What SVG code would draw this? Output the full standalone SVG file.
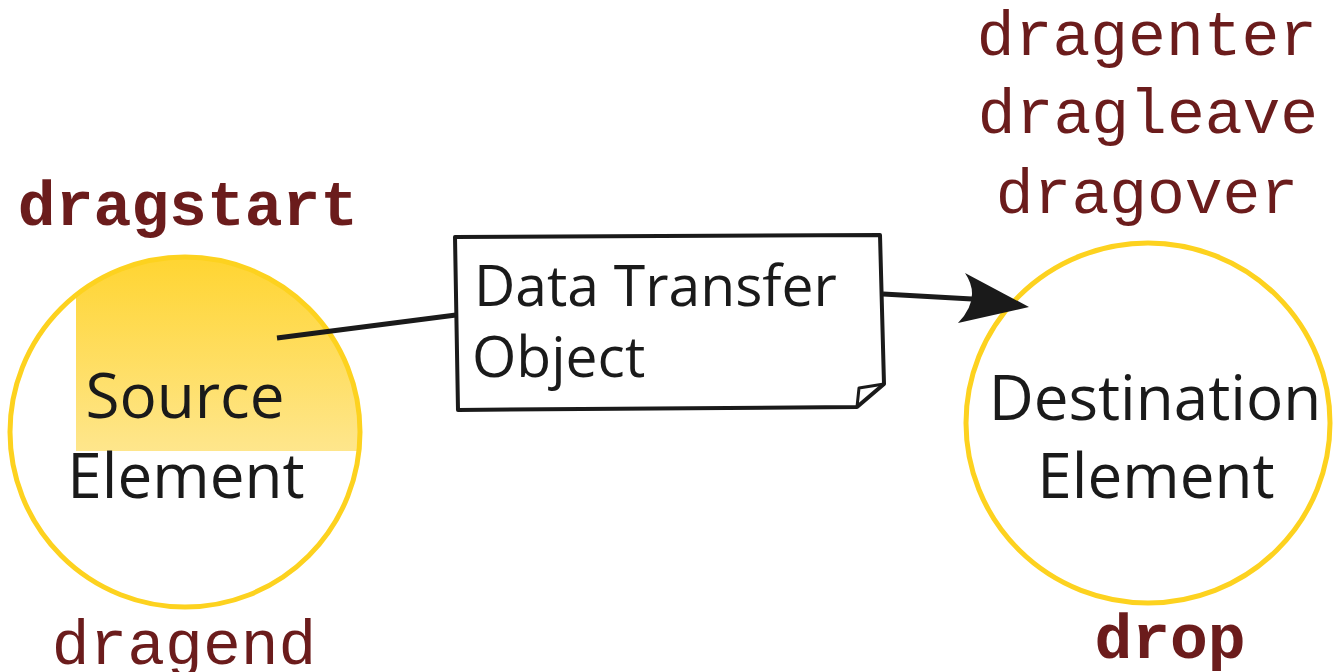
<svg xmlns="http://www.w3.org/2000/svg" width="1337" height="672" viewBox="0 0 1337 672">
  <style>
    .ring { fill: none; stroke: #FDD21F; stroke-width: 5; }
    .label { font-family: "Open Sans", "Noto Sans", "Liberation Sans", sans-serif; fill: #1a1a1a; text-anchor: middle; }
    .evt { font-family: "Liberation Mono", "DejaVu Sans Mono", monospace; fill: #6B1C1C; font-size: 63px; text-anchor: middle; }
    .bold { font-weight: bold; }
    .wire { fill: none; stroke: #1a1a1a; stroke-width: 5; }
  </style>
  <defs>
    <linearGradient id="srcGrad" x1="0" y1="0" x2="0" y2="1">
      <stop offset="0" stop-color="#FFD42E"/>
      <stop offset="1" stop-color="#FEE68C"/>
    </linearGradient>
    <clipPath id="srcClip">
      <circle cx="185" cy="432" r="175"/>
    </clipPath>
  </defs>
  <rect width="1337" height="672" fill="#ffffff"/>

  <g id="source">
    <rect x="76" y="250" width="300" height="201" fill="url(#srcGrad)" clip-path="url(#srcClip)"/>
    <circle class="ring" cx="185" cy="432" r="175"/>
    <text class="label" font-size="62" x="185" y="418">Source</text>
    <text class="label" font-size="62" x="186" y="498">Element</text>
  </g>

  <g id="destination">
    <ellipse class="ring" cx="1148" cy="423" rx="182" ry="180"/>
    <text class="label" font-size="62" x="1155" y="420">Destination</text>
    <text class="label" font-size="62" x="1156" y="498">Element</text>
  </g>

  <g id="connectors">
    <path class="wire" d="M277,338 L456,315"/>
    <path class="wire" d="M883,294 L972,299"/>
    <path d="M1029,307 L965,273 Q982,298 958,323 Z" fill="#1a1a1a"/>
  </g>

  <g id="note">
    <path d="M455,237 L880,235 L884,384 L857,407 L458,410 Z" fill="#ffffff" stroke="#1a1a1a" stroke-width="4" stroke-linejoin="round"/>
    <path d="M884,384 L859,388 L857,407" fill="none" stroke="#1a1a1a" stroke-width="3" stroke-linejoin="round"/>
    <text class="label" font-size="57" x="474" y="306" text-anchor="start" style="text-anchor:start">Data Transfer</text>
    <text class="label" font-size="57" x="472" y="377" text-anchor="start" style="text-anchor:start">Object</text>
  </g>

  <g id="events">
    <text class="evt bold" x="188" y="225">dragstart</text>
    <text class="evt" x="184" y="664">dragend</text>
    <text class="evt" x="1147" y="55">dragenter</text>
    <text class="evt" x="1148" y="133">dragleave</text>
    <text class="evt" x="1147" y="213">dragover</text>
    <text class="evt bold" x="1170" y="658">drop</text>
  </g>
</svg>
